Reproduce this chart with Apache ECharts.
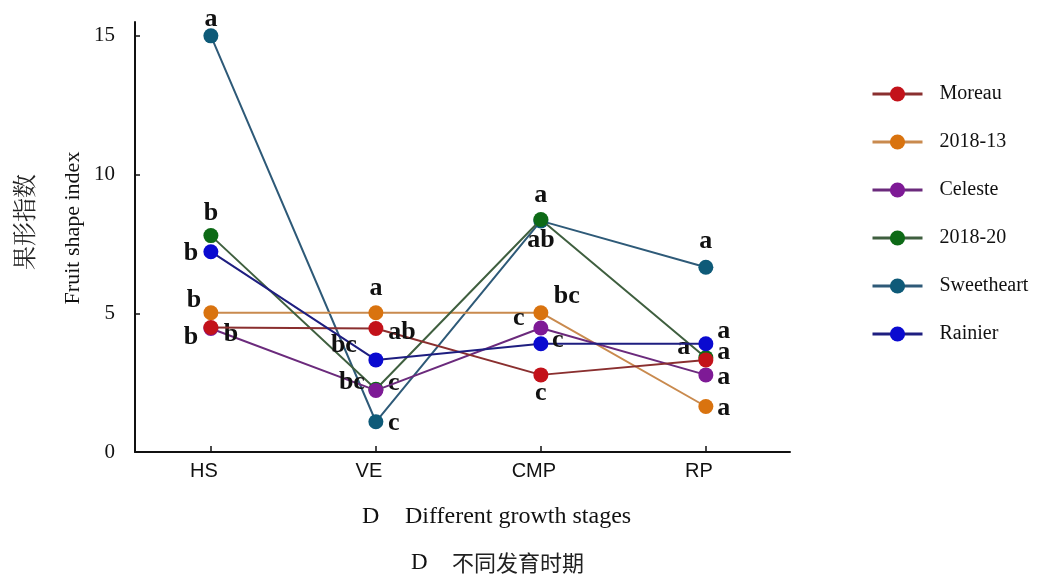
<!DOCTYPE html>
<html>
<head>
<meta charset="utf-8">
<script src="https://cdn.jsdelivr.net/npm/echarts@6/dist/echarts.min.js"></script>
<style>html,body{margin:0;padding:0;background:#fff}#c{width:1047px;height:576px}</style>
</head>
<body>
<div id="c"></div>
<script>
// ---- data ----
const stages = ['HS', 'VE', 'CMP', 'RP'];
const seriesNames = ['Moreau', '2018-13', 'Celeste', '2018-20', 'Sweetheart', 'Rainier'];
const moreau     = [4.49, 4.45, 2.78, 3.32];
const s2018_13   = [5.02, 5.02, 5.02, 1.64];
const celeste    = [4.45, 2.22, 4.47, 2.78];
const s2018_20   = [7.80, 2.26, 8.38, 3.40];
const sweetheart = [15.0, 1.09, 8.33, 6.66];
const rainier    = [7.22, 3.32, 3.90, 3.90];
const yTicks = [0, 5, 10, 15];
// significance letters
const lettersMoreau     = ['b', 'ab', 'c', 'a'];
const letters2018_13    = ['b', 'a', 'bc', 'a'];
const lettersCeleste    = ['b', 'bc', 'c', 'a'];
const letters2018_20    = ['b', 'c', 'ab', 'a'];
const lettersSweetheart = ['a', 'c', 'a', 'a'];
const lettersRainier    = ['b', 'bc', 'c', 'a'];

// ---- styles (not data) ----
const dotColors  = ['#c3121a', '#d9730f', '#7e1a96', '#0d6a16', '#0e5a78', '#0a0ad0'];
const lineColors = ['#8a2f2f', '#c98a4e', '#6b2a7c', '#3f5f3f', '#2e5a78', '#1e1e80'];
// label offsets [dx, dy] per series per stage
const offs = [
  [[-20, 10], [26, 4], [0, 18], [18, -8]],       // Moreau
  [[-17, -12], [0, -24], [26, -16], [18, 2]],    // 2018-13
  [[20, 6], [-24, -8], [-22, -10], [18, 2]],     // Celeste
  [[0, -22], [18, -6], [0, 21], [-22, -10]],     // 2018-20
  [[0, -17], [18, 2], [0, -26], [0, -26]],       // Sweetheart
  [[-20, 2], [-32, -15], [17, -4], [18, -13]]    // Rainier
];
const zs = [5, 3, 4, 3, 2, 5];

const allValues = [moreau, s2018_13, celeste, s2018_20, sweetheart, rainier];
const allLetters = [lettersMoreau, letters2018_13, lettersCeleste, letters2018_20, lettersSweetheart, lettersRainier];

const letterFont = 'Liberation Serif';
const series = seriesNames.map((name, si) => ({
  name: name,
  type: 'line',
  z: zs[si],
  symbol: 'circle',
  symbolSize: 15,
  itemStyle: { color: dotColors[si] },
  lineStyle: { color: lineColors[si], width: 2 },
  emphasis: { disabled: true },
  data: allValues[si].map((v, i) => ({
    value: [i, v],
    label: {
      show: true,
      formatter: allLetters[si][i],
      position: 'inside',
      offset: offs[si][i],
      color: '#111',
      fontFamily: letterFont,
      fontWeight: 'bold',
      fontSize: 26
    }
  }))
}));

const chart = echarts.init(document.getElementById('c'), null, { renderer: 'canvas' });
chart.setOption({
  animation: false,
  backgroundColor: '#fff',
  grid: { left: 135, top: 22, width: 655, height: 430, containLabel: false },
  legend: {
    orient: 'vertical',
    left: 866,
    top: 79,
    itemGap: 28,
    itemWidth: 50,
    itemHeight: 19,
    lineStyle: { width: 3 },
    textStyle: { fontFamily: 'Liberation Serif', fontSize: 20, color: '#111', padding: [0, 0, 0, 12] },
    data: seriesNames
  },
  xAxis: {
    type: 'value',
    min: -0.46,
    max: 3.51,
    axisLine: { show: true, onZero: false, lineStyle: { color: '#111', width: 2 } },
    axisTick: { show: true, inside: true, length: 6, lineStyle: { color: '#111', width: 1.5 }, customValues: [0, 1, 2, 3] },
    axisLabel: {
      customValues: [0, 1, 2, 3],
      formatter: v => stages[Math.round(v)],
      fontFamily: 'Liberation Sans Narrow, Liberation Sans',
      fontSize: 20, color: '#111', margin: 9,
      padding: [0, 14, 0, 0]
    },
    splitLine: { show: false }
  },
  yAxis: {
    type: 'value',
    min: 0,
    max: 15.5,
    interval: 5,
    axisLine: { show: true, onZero: false, lineStyle: { color: '#111', width: 2 } },
    axisTick: { show: true, inside: true, length: 5, lineStyle: { color: '#111', width: 1.5 }, customValues: yTicks },
    axisLabel: { customValues: yTicks, fontFamily: 'Liberation Serif', fontSize: 21, color: '#111', margin: 20 },
    splitLine: { show: false }
  },
  graphic: [
    { type: 'text', x: 24, y: 222, rotation: Math.PI / 2,
      style: { text: '果形指数', font: '24px "Noto Serif CJK SC", "Noto Sans CJK SC"', fill: '#222', align: 'center', verticalAlign: 'middle' } },
    { type: 'text', x: 73, y: 228, rotation: Math.PI / 2,
      style: { text: 'Fruit shape index', font: '22px "Liberation Serif"', fill: '#111', align: 'center', verticalAlign: 'middle' } },
    { type: 'text', x: 362, y: 517,
      style: { text: 'D', font: '24px "Liberation Serif"', fill: '#111', verticalAlign: 'middle' } },
    { type: 'text', x: 405, y: 517,
      style: { text: 'Different growth stages', font: '24px "Liberation Serif"', fill: '#111', verticalAlign: 'middle' } },
    { type: 'text', x: 411, y: 563,
      style: { text: 'D', font: '23px "Liberation Serif"', fill: '#111', verticalAlign: 'middle' } },
    { type: 'text', x: 452, y: 563,
      style: { text: '不同发育时期', font: '22px "Noto Sans CJK SC"', fill: '#222', verticalAlign: 'middle' } }
  ],
  series: series
});
</script>
</body>
</html>
